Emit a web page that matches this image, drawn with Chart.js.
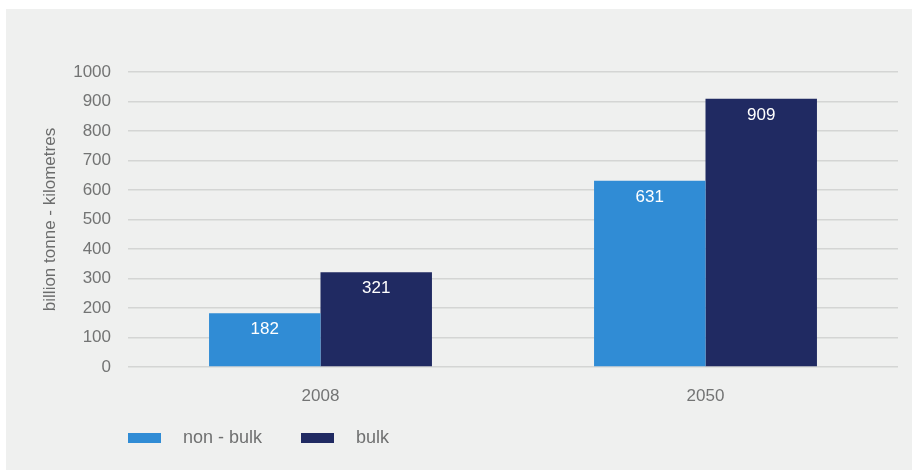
<!DOCTYPE html>
<html lang="en">
<head>
  <meta charset="UTF-8">
  <title>Tonne-kilometres, bulk vs non-bulk</title>
  <script src="https://cdn.jsdelivr.net/npm/chart.js"></script>
  <style>
    body { margin: 0; background: #fff; font-family: 'Liberation Sans', Arial, sans-serif; }
    #panel { position: absolute; left: 6px; top: 9px; width: 906px; height: 461px; background: #eff0ef; }
    #panel canvas { position: absolute; left: 0; top: 0; }
    #legend { position: absolute; left: 122px; top: 418px; display: flex; align-items: center; font-size: 18px; color: #6f7070; }
    .item { display: flex; align-items: center; }
    .box { width: 33px; height: 10px; margin-right: 22px; }
  </style>
</head>
<body>
  <div id="panel">
    <canvas id="chart" width="906" height="461"></canvas>
    <div id="legend"></div>
  </div>

  <script>
    const categories = ['2008', '2050'];
    const nonBulk = [182, 631];
    const bulk = [321, 909];
    const seriesNames = ['non - bulk', 'bulk'];
    const seriesColors = ['#308cd5', '#202a62'];

    const textColor = '#737474';
    const font = { family: "'Liberation Sans', Arial, sans-serif", size: 17 };

    // white value labels just inside the top of each bar
    const valueLabels = {
      id: 'valueLabels',
      afterDatasetsDraw(chart) {
        const ctx = chart.ctx;
        ctx.save();
        ctx.fillStyle = '#ffffff';
        ctx.font = `17px ${font.family}`;
        ctx.textAlign = 'center';
        ctx.textBaseline = 'middle';
        chart.data.datasets.forEach((ds, i) => {
          chart.getDatasetMeta(i).data.forEach((bar, j) => {
            ctx.fillText(ds.data[j], bar.x, bar.y + 16);
          });
        });
        ctx.restore();
      }
    };

    const chart = new Chart(document.getElementById('chart'), {
      type: 'bar',
      data: {
        labels: categories,
        datasets: [
          { label: seriesNames[0], data: nonBulk, backgroundColor: seriesColors[0] },
          { label: seriesNames[1], data: bulk, backgroundColor: seriesColors[1] }
        ]
      },
      options: {
        responsive: false,
        animation: false,
        layout: { padding: { left: 30, top: 63, right: 14, bottom: 53 } },
        datasets: { bar: { barPercentage: 1, categoryPercentage: 0.579 } },
        plugins: { legend: { display: false }, tooltip: { enabled: false } },
        scales: {
          x: {
            grid: { display: false },
            border: { display: false },
            ticks: { color: textColor, font: font, padding: 11 },
            afterFit(scale) { scale.height = 50; }
          },
          y: {
            min: 0,
            max: 1000,
            ticks: { stepSize: 100, color: textColor, font: font, padding: 17, callback: v => String(v) },
            grid: { color: '#d4d5d4', lineWidth: 1.5, drawTicks: false },
            border: { display: false },
            title: { display: true, text: 'billion tonne - kilometres', color: '#6b6c6c', font: font, padding: { top: 4, bottom: 4 } },
            afterFit(scale) { scale.width = 92; }
          }
        }
      },
      plugins: [valueLabels]
    });

    // legend built from the datasets
    const legend = document.getElementById('legend');
    chart.data.datasets.forEach((ds, i) => {
      const item = document.createElement('div');
      item.className = 'item';
      item.style.marginRight = i === 0 ? '39px' : '0';
      item.innerHTML = `<span class="box" style="background:${ds.backgroundColor}"></span><span>${ds.label}</span>`;
      legend.appendChild(item);
    });
  </script>
</body>
</html>
